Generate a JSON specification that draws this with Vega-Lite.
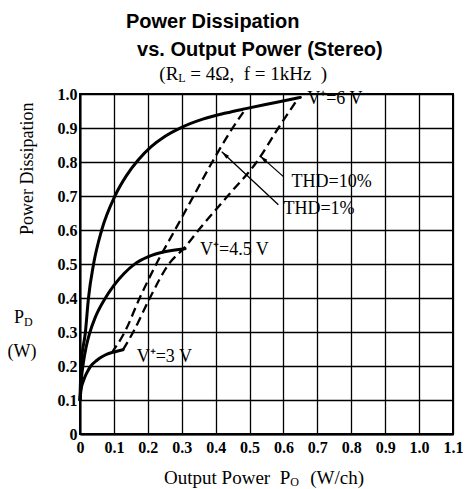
{
  "$schema": "https://vega.github.io/schema/vega-lite/v6.json",
  "width": 373,
  "height": 340,
  "autosize": {"type": "none"},
  "padding": {"left": 80, "top": 94, "right": 12, "bottom": 55},
  "background": "white",
  "config": {
    "view": {"stroke": "black", "strokeWidth": 2},
    "font": "Liberation Serif",
    "axis": {
      "grid": true, "gridColor": "black", "gridWidth": 1.3, "gridOpacity": 1,
      "domain": true, "domainColor": "black", "domainWidth": 2,
      "ticks": false,
      "labelExpr": "datum.value == 0 ? '0' : format(datum.value, '.1f')",
      "labelFont": "Liberation Serif", "labelFontSize": 16, "labelFontWeight": "bold", "labelColor": "black",
      "labelFlush": false, "labelOverlap": false
    },
    "axisX": {"tickCount": 11, "labelPadding": 5},
    "axisY": {"tickCount": 10, "labelPadding": 3}
  },
  "title": {
    "text": ["Power Dissipation", "\u200b\u00a0\u00a0vs. Output Power (Stereo)"],
    "anchor": "start",
    "frame": "group",
    "dx": 46,
    "font": "Liberation Sans",
    "fontSize": 20,
    "fontWeight": "bold",
    "color": "black",
    "lineHeight": 28,
    "baseline": "alphabetic",
    "offset": -11
  },
  "datasets": {
    "supply": [
      {"series": "3V", "x": 0, "y": 0.1},
      {"series": "3V", "x": 0.003, "y": 0.13},
      {"series": "3V", "x": 0.01, "y": 0.156},
      {"series": "3V", "x": 0.02, "y": 0.18},
      {"series": "3V", "x": 0.032, "y": 0.2},
      {"series": "3V", "x": 0.05, "y": 0.217},
      {"series": "3V", "x": 0.066, "y": 0.228},
      {"series": "3V", "x": 0.08, "y": 0.235},
      {"series": "3V", "x": 0.096, "y": 0.24},
      {"series": "3V", "x": 0.127, "y": 0.248},
      {"series": "4.5V", "x": 0, "y": 0.1},
      {"series": "4.5V", "x": 0.004, "y": 0.16},
      {"series": "4.5V", "x": 0.01, "y": 0.21},
      {"series": "4.5V", "x": 0.018, "y": 0.255},
      {"series": "4.5V", "x": 0.028, "y": 0.295},
      {"series": "4.5V", "x": 0.045, "y": 0.343},
      {"series": "4.5V", "x": 0.07, "y": 0.392},
      {"series": "4.5V", "x": 0.1, "y": 0.437},
      {"series": "4.5V", "x": 0.13, "y": 0.472},
      {"series": "4.5V", "x": 0.16, "y": 0.499},
      {"series": "4.5V", "x": 0.2, "y": 0.521},
      {"series": "4.5V", "x": 0.25, "y": 0.536},
      {"series": "4.5V", "x": 0.31, "y": 0.545},
      {"series": "6V", "x": 0, "y": 0.1},
      {"series": "6V", "x": 0.003, "y": 0.2},
      {"series": "6V", "x": 0.016, "y": 0.3},
      {"series": "6V", "x": 0.025, "y": 0.4},
      {"series": "6V", "x": 0.04, "y": 0.5},
      {"series": "6V", "x": 0.064, "y": 0.6},
      {"series": "6V", "x": 0.103, "y": 0.7},
      {"series": "6V", "x": 0.137, "y": 0.76},
      {"series": "6V", "x": 0.171, "y": 0.805},
      {"series": "6V", "x": 0.21, "y": 0.845},
      {"series": "6V", "x": 0.25, "y": 0.875},
      {"series": "6V", "x": 0.3, "y": 0.902},
      {"series": "6V", "x": 0.362, "y": 0.926},
      {"series": "6V", "x": 0.43, "y": 0.944},
      {"series": "6V", "x": 0.489, "y": 0.957},
      {"series": "6V", "x": 0.577, "y": 0.975},
      {"series": "6V", "x": 0.65, "y": 0.99}
    ],
    "thd": [
      {"series": "THD=1%", "x": 0.093, "y": 0.238},
      {"series": "THD=1%", "x": 0.132, "y": 0.3},
      {"series": "THD=1%", "x": 0.176, "y": 0.4},
      {"series": "THD=1%", "x": 0.225, "y": 0.5},
      {"series": "THD=1%", "x": 0.28, "y": 0.6},
      {"series": "THD=1%", "x": 0.335, "y": 0.7},
      {"series": "THD=1%", "x": 0.39, "y": 0.8},
      {"series": "THD=1%", "x": 0.45, "y": 0.9},
      {"series": "THD=1%", "x": 0.489, "y": 0.957},
      {"series": "THD=10%", "x": 0.127, "y": 0.248},
      {"series": "THD=10%", "x": 0.157, "y": 0.3},
      {"series": "THD=10%", "x": 0.206, "y": 0.4},
      {"series": "THD=10%", "x": 0.262, "y": 0.5},
      {"series": "THD=10%", "x": 0.31, "y": 0.55},
      {"series": "THD=10%", "x": 0.354, "y": 0.605},
      {"series": "THD=10%", "x": 0.44, "y": 0.705},
      {"series": "THD=10%", "x": 0.521, "y": 0.8},
      {"series": "THD=10%", "x": 0.585, "y": 0.9},
      {"series": "THD=10%", "x": 0.645, "y": 0.99}
    ],
    "notes": [
      {"label": "V\u207a=6 V", "x": 0.67, "y": 0.985},
      {"label": "V\u207a=4.5 V", "x": 0.354, "y": 0.54},
      {"label": "V\u207a=3 V", "x": 0.167, "y": 0.227},
      {"label": "THD=10%", "x": 0.624, "y": 0.742},
      {"label": "THD=1%", "x": 0.6, "y": 0.661}
    ],
    "arrows": [
      {"label": "THD=10%", "x": 0.6, "y": 0.757, "x2": 0.531, "y2": 0.818},
      {"label": "THD=1%", "x": 0.585, "y": 0.674, "x2": 0.418, "y2": 0.83}
    ]
  },
  "layer": [
    {
      "data": {"name": "supply"},
      "mark": {"type": "line", "color": "black", "strokeWidth": 3, "interpolate": "monotone", "strokeCap": "round"},
      "encoding": {
        "x": {"field": "x", "type": "quantitative", "title": null, "scale": {"domain": [0, 1.1], "nice": false}},
        "y": {"field": "y", "type": "quantitative", "title": null, "scale": {"domain": [0, 1.0], "nice": false}},
        "detail": {"field": "series"}
      }
    },
    {
      "data": {"name": "thd"},
      "mark": {"type": "line", "color": "black", "strokeWidth": 2.3, "strokeDash": [9, 5], "interpolate": "monotone"},
      "encoding": {
        "x": {"field": "x", "type": "quantitative", "title": null},
        "y": {"field": "y", "type": "quantitative", "title": null},
        "detail": {"field": "series"}
      }
    },
    {
      "data": {"name": "arrows"},
      "mark": {"type": "rule", "color": "black", "strokeWidth": 1.3},
      "encoding": {
        "x": {"field": "x", "type": "quantitative", "title": null},
        "y": {"field": "y", "type": "quantitative", "title": null},
        "x2": {"field": "x2"},
        "y2": {"field": "y2"}
      }
    },
    {
      "data": {"name": "arrows"},
      "mark": {"type": "point", "shape": "M0,0L0.5,2L-0.5,2Z", "filled": true, "color": "black", "opacity": 1, "size": 64, "angle": 312},
      "encoding": {
        "x": {"field": "x2", "type": "quantitative", "title": null},
        "y": {"field": "y2", "type": "quantitative", "title": null}
      }
    },
    {
      "data": {"name": "notes"},
      "mark": {"type": "text", "align": "left", "baseline": "middle", "font": "Liberation Serif", "fontSize": 18, "color": "black"},
      "encoding": {
        "x": {"field": "x", "type": "quantitative", "title": null},
        "y": {"field": "y", "type": "quantitative", "title": null},
        "text": {"field": "label"}
      }
    },
    {
      "data": {"values": [{}]},
      "mark": {"type": "text", "align": "right", "baseline": "middle", "font": "Liberation Serif", "fontSize": 19, "color": "black", "dy": -20},
      "encoding": {"x": {"datum": 0.29}, "y": {"datum": 1.0}, "text": {"value": "(R"}}
    },
    {
      "data": {"values": [{}]},
      "mark": {"type": "text", "align": "left", "baseline": "middle", "font": "Liberation Serif", "fontSize": 12, "color": "black", "dy": -16},
      "encoding": {"x": {"datum": 0.29}, "y": {"datum": 1.0}, "text": {"value": "L"}}
    },
    {
      "data": {"values": [{}]},
      "mark": {"type": "text", "align": "left", "baseline": "middle", "font": "Liberation Serif", "fontSize": 19, "color": "black", "dy": -20, "dx": 12},
      "encoding": {"x": {"datum": 0.29}, "y": {"datum": 1.0}, "text": {"value": "=\u00a04\u03a9,\u00a0\u00a0f\u00a0=\u00a01kHz\u00a0\u00a0)"}}
    },
    {
      "data": {"values": [{}]},
      "mark": {"type": "text", "align": "right", "baseline": "middle", "font": "Liberation Serif", "fontSize": 19, "color": "black", "dy": 44},
      "encoding": {"x": {"datum": 0.62}, "y": {"datum": 0}, "text": {"value": "Output Power\u00a0 P"}}
    },
    {
      "data": {"values": [{}]},
      "mark": {"type": "text", "align": "left", "baseline": "middle", "font": "Liberation Serif", "fontSize": 12, "color": "black", "dy": 48},
      "encoding": {"x": {"datum": 0.62}, "y": {"datum": 0}, "text": {"value": "O"}}
    },
    {
      "data": {"values": [{}]},
      "mark": {"type": "text", "align": "left", "baseline": "middle", "font": "Liberation Serif", "fontSize": 19, "color": "black", "dy": 44, "dx": 20},
      "encoding": {"x": {"datum": 0.62}, "y": {"datum": 0}, "text": {"value": "(W/ch)"}}
    },
    {
      "data": {"values": [{}]},
      "mark": {"type": "text", "align": "center", "baseline": "middle", "font": "Liberation Serif", "fontSize": 18, "color": "black", "angle": 270, "dy": -52},
      "encoding": {"x": {"datum": 0}, "y": {"datum": 0.78}, "text": {"value": "Power Dissipation"}}
    },
    {
      "data": {"values": [{}]},
      "mark": {"type": "text", "align": "right", "baseline": "middle", "font": "Liberation Serif", "fontSize": 18, "color": "black", "dx": -56},
      "encoding": {"x": {"datum": 0}, "y": {"datum": 0.34}, "text": {"value": "P"}}
    },
    {
      "data": {"values": [{}]},
      "mark": {"type": "text", "align": "left", "baseline": "middle", "font": "Liberation Serif", "fontSize": 12, "color": "black", "dx": -56, "dy": 4},
      "encoding": {"x": {"datum": 0}, "y": {"datum": 0.34}, "text": {"value": "D"}}
    },
    {
      "data": {"values": [{}]},
      "mark": {"type": "text", "align": "center", "baseline": "middle", "font": "Liberation Serif", "fontSize": 18, "color": "black", "dx": -58},
      "encoding": {"x": {"datum": 0}, "y": {"datum": 0.24}, "text": {"value": "(W)"}}
    }
  ]
}
